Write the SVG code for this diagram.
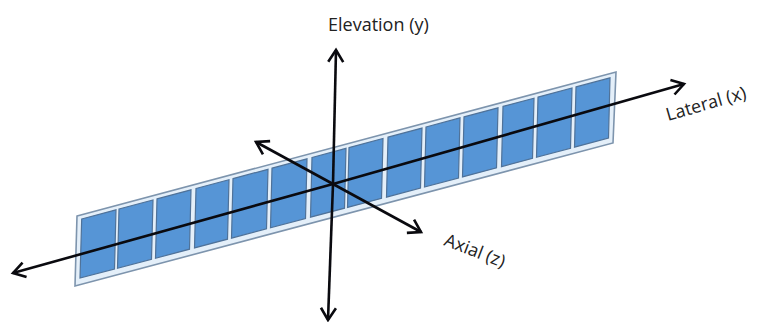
<svg xmlns="http://www.w3.org/2000/svg" width="762" height="322" viewBox="0 0 762 322">
<style>
.cell{fill:#5695d6;stroke:#4f7299;stroke-width:1.2}
.axis{fill:none;stroke:#0a0a0f;stroke-width:2.6;marker-end:url(#arrow)}
text{font-family:"Open Sans","Noto Sans",sans-serif;font-size:18px;fill:#222}
</style>
<defs>
<marker id="arrow" markerUnits="userSpaceOnUse" markerWidth="20" markerHeight="20" refX="15" refY="10" orient="auto" overflow="visible">
<path d="M3 2.5L15 10L3 17.5" fill="none" stroke="#0a0a0f" stroke-width="2.6"/>
</marker>
</defs>
<rect width="762" height="322" fill="#fff"/>
<g id="array">
<polygon points="77,216 616,72 613,143 75,286" fill="#e4eff9" stroke="#7d94ad" stroke-width="1.6"/>
<polygon class="cell" points="81.7,219 116,209.8 114.5,269.1 80,278"/>
<polygon class="cell" points="119,209 153,200 151.5,259.3 117.5,268.3"/>
<polygon class="cell" points="157,198.9 191,189.8 189.5,249.2 155.5,258.3"/>
<polygon class="cell" points="196,188.5 229,179.7 227.5,239.2 194.5,247.9"/>
<polygon class="cell" points="233,178.6 268,169.3 266.5,228.8 231.5,238.1"/>
<polygon class="cell" points="272,168.2 307,158.8 305.5,218.5 270.5,227.8"/>
<polygon class="cell" points="312,157.5 346,148.4 344.5,208.2 310.5,217.2"/>
<polygon class="cell" points="349,147.6 383,138.5 381.5,198.4 347.5,207.4"/>
<polygon class="cell" points="388,137.2 422,128.1 420.5,188 386.5,197.1"/>
<polygon class="cell" points="426,127 460,117.9 458.5,178 424.5,187"/>
<polygon class="cell" points="464,116.9 498,107.8 496.5,167.9 462.5,176.9"/>
<polygon class="cell" points="503,106.4 534,98.2 532.5,158.4 501.5,166.6"/>
<polygon class="cell" points="538,97.1 572,88 570.5,148.3 536.5,157.3"/>
<polygon class="cell" points="576,86.9 610,77.9 608.5,138 574.5,147.2"/>
</g>
<g id="connectors">
<line class="axis" x1="333" y1="184" x2="684" y2="84"/>
<line class="axis" x1="333" y1="184" x2="13" y2="273"/>
<line class="axis" x1="333" y1="184" x2="336" y2="50"/>
<line class="axis" x1="333" y1="184" x2="328" y2="320"/>
<line class="axis" x1="333" y1="184" x2="256" y2="142"/>
<line class="axis" x1="333" y1="184" x2="421" y2="232"/>
</g>
<g id="label-elevation"><text x="328" y="31">Elevation (y)</text></g>
<g id="label-lateral"><text transform="translate(668,121) rotate(-16)">Lateral (x)</text></g>
<g id="label-axial"><text transform="translate(443,245) rotate(21)">Axial (z)</text></g>
</svg>
